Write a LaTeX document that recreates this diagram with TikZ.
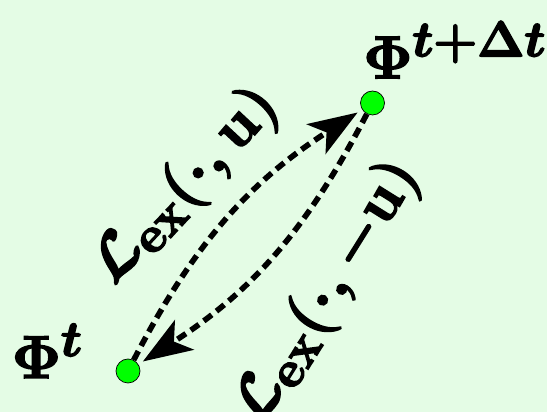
\documentclass[tikz,border=0pt]{standalone}
\usepackage{amsmath,amssymb}
\usepackage{xcolor}
\usetikzlibrary{arrows.meta,positioning,calc}
\definecolor{bgmint}{RGB}{228,252,229}
\definecolor{dotgreen}{RGB}{0,255,0}
\newcommand{\heavyon}{\special{pdf:literal direct 2 Tr 0.7 w}}
\newcommand{\heavyoff}{\special{pdf:literal direct 0 Tr}}

\begin{document}
\begin{tikzpicture}[
  font=\Huge\boldmath,
  state/.style={circle, draw=black, thin, fill=dotgreen, minimum size=0.48cm, inner sep=0pt},
  flow/.style={-{Stealth[length=28pt, width=20pt, inset=7pt]}, line width=3.2pt, dash pattern=on 5.7pt off 3.4pt, shorten >=3pt, bend left=15},
  tag/.style={inner sep=0pt, scale=1.38}
]
  % background
  \fill[bgmint] (0,0) rectangle (10.94,-8.24);
  \useasboundingbox (0,0) rectangle (10.94,-8.24);

  \node[state] (now) at (2.56,-7.42) {};
  \node[state] (next) at (7.45,-2.06) {};

  \node[tag] (nowname) at (0.95,-7.02) {\heavyon$\Phi^{t}$\heavyoff};
  \node[tag] (nextname) at (9.1,-1.0) {\heavyon$\Phi^{t+\Delta t}$\heavyoff};

  \draw[flow] (now) to (next);
  \draw[flow] (next) to (now);

  \node[tag, rotate=47] (fwd) at (3.72,-3.72) {\heavyon$\mathcal{L}_{\mathrm{ex}}(\cdot,\mathbf{u})$\heavyoff};
  \node[tag, rotate=58] (bwd) at (6.55,-5.85) {\heavyon$\mathcal{L}_{\mathrm{ex}}(\cdot,-\mathbf{u})$\heavyoff};
\end{tikzpicture}
\end{document}
